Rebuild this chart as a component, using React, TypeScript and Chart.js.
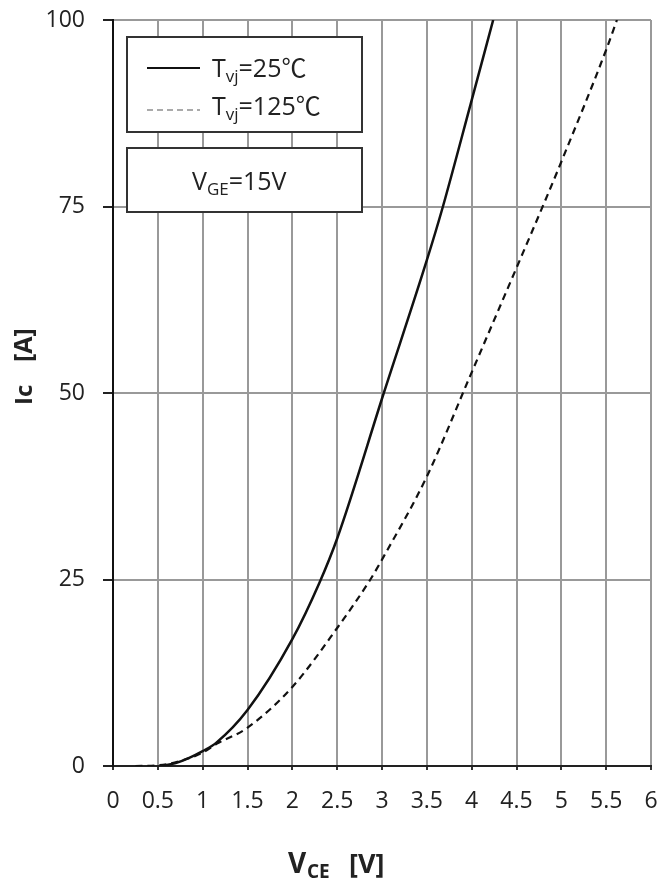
import React, { useEffect, useRef } from "react";
import { Chart, registerables } from "chart.js";

Chart.register(...registerables);

// V_CE [V] / I_C [A] for Tvj = 25 °C (solid)
const vce25 = [0.55, 0.7, 0.85, 1.0, 1.15, 1.5, 2.0, 2.3, 2.5, 3.02, 3.5, 3.67, 3.99, 4.24];
const ic25 = [0, 0.4, 1.1, 2.0, 3.1, 7.5, 17.0, 24.5, 30.5, 50, 67.8, 74.6, 88.8, 100];

// Tvj = 125 °C (dashed)
const vce125 = [0.25, 0.5, 0.7, 1.0, 1.16, 1.49, 2.0, 2.5, 2.87, 3.02, 3.5, 3.98, 4.49, 4.82, 5.0, 5.5, 5.62];
const ic125 = [0, 0.1, 0.5, 1.8, 3.0, 5.05, 10.6, 18.5, 25, 28.1, 38.8, 52.2, 66.5, 75.8, 81, 96, 100];

const xTicks = [0, 0.5, 1, 1.5, 2, 2.5, 3, 3.5, 4, 4.5, 5, 5.5, 6];
const yTicks = [0, 25, 50, 75, 100];

const legendLabels = ["=25℃", "=125℃"];
const conditionLabel = "=15V";

const FONT = "'Open Sans', 'Noto Sans CJK SC', sans-serif";

const overlayPlugin = {
  id: "overlay",
  afterDraw(chart: any) {
    const ctx = chart.ctx as CanvasRenderingContext2D;
    ctx.save();
    ctx.textBaseline = "alphabetic";
    ctx.textAlign = "left";

    // legend box 1
    ctx.fillStyle = "#fff";
    ctx.fillRect(127, 37, 235, 95);
    ctx.strokeStyle = "#333";
    ctx.lineWidth = 2;
    ctx.strokeRect(127, 37, 235, 95);
    // legend box 2
    ctx.fillRect(127, 148, 235, 64);
    ctx.strokeRect(127, 148, 235, 64);

    // solid sample
    ctx.beginPath();
    ctx.setLineDash([]);
    ctx.strokeStyle = "#111";
    ctx.lineWidth = 2;
    ctx.moveTo(147, 68);
    ctx.lineTo(200, 68);
    ctx.stroke();
    // dashed sample
    ctx.beginPath();
    ctx.setLineDash([6, 4]);
    ctx.strokeStyle = "#aaa";
    ctx.moveTo(147, 110);
    ctx.lineTo(200, 110);
    ctx.stroke();
    ctx.setLineDash([]);

    const drawSub = (x: number, y: number, main: string, sub: string, rest: string, size: number) => {
      ctx.fillStyle = "#222";
      ctx.font = `${size}px ${FONT}`;
      ctx.fillText(main, x, y);
      let cx = x + ctx.measureText(main).width;
      ctx.font = `${Math.round(size * 0.68)}px ${FONT}`;
      ctx.fillText(sub, cx, y + 5);
      cx += ctx.measureText(sub).width;
      ctx.font = `${size}px ${FONT}`;
      ctx.fillText(rest, cx, y);
    };
    drawSub(212, 77, "T", "vj", legendLabels[0], 25);
    drawSub(212, 115, "T", "vj", legendLabels[1], 25);
    drawSub(192, 190, "V", "GE", conditionLabel, 25);

    // x axis title
    ctx.fillStyle = "#222";
    ctx.font = `bold 28px ${FONT}`;
    ctx.fillText("V", 288, 873);
    ctx.font = `bold 19px ${FONT}`;
    ctx.fillText("CE", 307, 878);
    ctx.font = `bold 27px ${FONT}`;
    ctx.fillText("[V]", 349, 873);

    // y axis title (rotated)
    ctx.save();
    ctx.translate(32, 405);
    ctx.rotate(-Math.PI / 2);
    ctx.font = `bold 24px ${FONT}`;
    ctx.fillText("Ic", 0, 0);
    ctx.font = `bold 25px ${FONT}`;
    ctx.fillText("[A]", 43, 0);
    ctx.restore();

    ctx.restore();
  },
};

export default function App() {
  const ref = useRef<HTMLCanvasElement | null>(null);
  useEffect(() => {
    document.body.style.margin = "0";
    const canvas = ref.current!;
    const chart = new Chart(canvas, {
      type: "line",
      data: {
        datasets: [
          {
            label: "Tvj=25℃",
            data: vce25.map((x, i) => ({ x, y: ic25[i] })),
            borderColor: "#111",
            borderWidth: 2.5,
            pointRadius: 0,
            cubicInterpolationMode: "monotone",
            fill: false,
          },
          {
            label: "Tvj=125℃",
            data: vce125.map((x, i) => ({ x, y: ic125[i] })),
            borderColor: "#111",
            borderWidth: 2.2,
            borderDash: [7, 5],
            pointRadius: 0,
            cubicInterpolationMode: "monotone",
            fill: false,
          },
        ],
      },
      options: {
        responsive: false,
        animation: false,
        layout: { padding: { left: 0, right: 8, top: 20, bottom: 0 } },
        plugins: { legend: { display: false }, tooltip: { enabled: false }, title: { display: false } },
        scales: {
          x: {
            type: "linear",
            min: 0,
            max: 6,
            afterBuildTicks: (s: any) => {
              s.ticks = xTicks.map((v) => ({ value: v }));
            },
            afterFit: (s: any) => {
              s.height = 117;
              s.paddingLeft = 0;
              s.paddingRight = 0;
            },
            ticks: {
              font: { family: FONT, size: 23 },
              color: "#222",
              padding: 18,
              maxRotation: 0,
              autoSkip: false,
              callback: (v: any) => String(v),
            },
            grid: { color: "#999", lineWidth: 2, tickLength: 4, tickColor: "#333" },
            border: { color: "#222", width: 2 },
          },
          y: {
            min: 0,
            max: 100,
            afterBuildTicks: (s: any) => {
              s.ticks = yTicks.map((v) => ({ value: v }));
            },
            afterFit: (s: any) => {
              s.width = 113;
              s.paddingTop = 0;
              s.paddingBottom = 0;
            },
            ticks: {
              font: { family: FONT, size: 23 },
              color: "#222",
              padding: 18,
              autoSkip: false,
            },
            grid: { color: "#999", lineWidth: 2, tickLength: 10, tickColor: "#222" },
            border: { color: "#111", width: 2 },
          },
        },
      },
      plugins: [overlayPlugin],
    } as any);
    return () => chart.destroy();
  }, []);
  return <canvas ref={ref} width={659} height={883} style={{ display: "block" }} />;
}
